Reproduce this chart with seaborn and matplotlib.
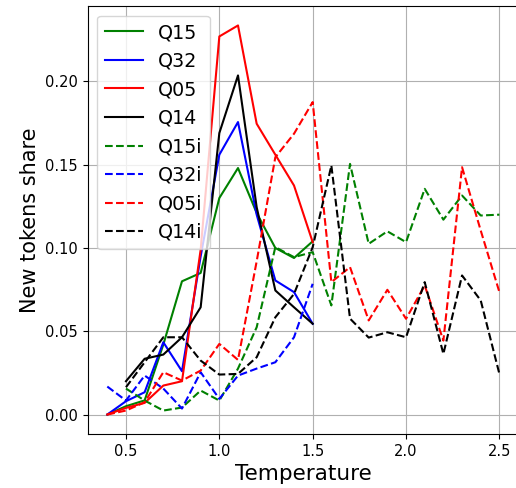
import matplotlib
matplotlib.use("Agg")
import matplotlib.pyplot as plt
import seaborn as sns
import pandas as pd

temps_short = [0.4, 0.5, 0.6, 0.7, 0.8, 0.9, 1.0, 1.1, 1.2, 1.3, 1.4, 1.5]
temps_long = [0.4, 0.5, 0.6, 0.7, 0.8, 0.9, 1.0, 1.1, 1.2, 1.3, 1.4, 1.5,
              1.6, 1.7, 1.8, 1.9, 2.0, 2.1, 2.2, 2.3, 2.4, 2.5]
temps_long5 = temps_long[1:]

q15 = [0.0, 0.005, 0.0085, 0.042, 0.080, 0.085, 0.130, 0.148, 0.121, 0.100, 0.094, 0.104]
q32 = [0.0, 0.008, 0.0134, 0.0434, 0.026, 0.095, 0.156, 0.1756, 0.120, 0.0805, 0.0735, 0.0545]
q05 = [0.0, 0.004, 0.007, 0.0174, 0.020, 0.099, 0.227, 0.2336, 0.1746, 0.156, 0.1375, 0.1035]
q14 = [0.020, 0.0335, 0.036, 0.0464, 0.0644, 0.169, 0.2036, 0.1245, 0.0745, 0.0644, 0.0545]

q15i = [0.0156, 0.0084, 0.0024, 0.0042, 0.0144, 0.0084, 0.0276, 0.0524, 0.1005, 0.0945,
        0.0975, 0.0655, 0.1505, 0.1025, 0.110, 0.1035, 0.1355, 0.117, 0.1315, 0.1195, 0.120]
q32i = [0.0168, 0.0084, 0.0234, 0.0156, 0.0036, 0.0254, 0.0094, 0.0234, 0.0276, 0.0314,
        0.0464, 0.0785]
q05i = [0.0, 0.0024, 0.0074, 0.0254, 0.0204, 0.0264, 0.0424, 0.0328, 0.092, 0.1545, 0.1686,
        0.1876, 0.0795, 0.0885, 0.0565, 0.0749, 0.0575, 0.0775, 0.0444, 0.1485, 0.1105, 0.0735]
q14i = [0.0164, 0.0314, 0.0464, 0.0464, 0.0324, 0.024, 0.0244, 0.0344, 0.0584, 0.0724,
        0.1005, 0.1495, 0.0576, 0.0462, 0.0494, 0.0464, 0.0795, 0.0364, 0.0835, 0.0685, 0.0244]

series = [
    ("Q15", temps_short, q15, "green", "-"),
    ("Q32", temps_short, q32, "blue", "-"),
    ("Q05", temps_short, q05, "red", "-"),
    ("Q14", temps_short[1:], q14, "black", "-"),
    ("Q15i", temps_long5, q15i, "green", "--"),
    ("Q32i", temps_short, q32i, "blue", "--"),
    ("Q05i", temps_long, q05i, "red", "--"),
    ("Q14i", temps_long5, q14i, "black", "--"),
]

fig = plt.figure(figsize=(5.16, 4.88), dpi=100)
ax = fig.add_axes([87.7 / 516, 54 / 488, 431.3 / 516, 428 / 488])

for name, xs, ys, color, ls in series:
    df = pd.DataFrame({"Temperature": xs, "share": ys})
    sns.lineplot(data=df, x="Temperature", y="share", ax=ax, color=color,
                 linestyle=ls, label=name, linewidth=1.5)

ax.grid(True, color="#b0b0b0", linewidth=0.8)
ax.set_xticks([0.5, 1.0, 1.5, 2.0, 2.5])
ax.set_yticks([0.0, 0.05, 0.10, 0.15, 0.20])
ax.set_xlabel("Temperature", fontsize=15.5)
ax.set_ylabel("New tokens share", fontsize=15)
ax.tick_params(labelsize=10.5)
ax.legend(loc="upper left", fontsize=13.7)

fig.savefig("out.png", dpi=100)
